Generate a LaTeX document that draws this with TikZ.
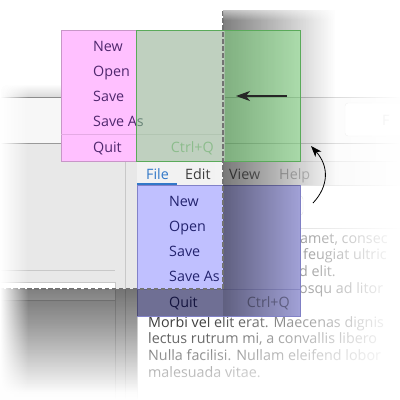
\documentclass[tikz,border=0pt]{standalone}
\usepackage{fontspec}
\setmainfont{Open Sans}
\usepackage{tikz}
\usetikzlibrary{arrows.meta,fadings}

\definecolor{pinkfill}{RGB}{255,192,255}
\definecolor{pinkdraw}{RGB}{200,150,200}
\definecolor{pinksep}{RGB}{228,170,228}
\definecolor{pinktext}{RGB}{80,40,110}
\definecolor{bluefill}{RGB}{192,192,255}
\definecolor{bluedraw}{RGB}{130,130,200}
\definecolor{bluesep}{RGB}{165,165,235}
\definecolor{bluetext}{RGB}{35,35,110}
\definecolor{greenfill}{RGB}{129,224,129}
\definecolor{greendraw}{RGB}{90,170,90}
\definecolor{filetab}{RGB}{50,120,200}
\definecolor{bodygray}{RGB}{60,60,60}
\definecolor{panelbg}{RGB}{232,232,232}
\definecolor{toolbg}{RGB}{247,247,247}
\definecolor{menubg}{RGB}{242,242,242}
\definecolor{linegray}{RGB}{200,200,200}

\tikzfading[name=fadeRight, left color=transparent!0, right color=transparent!100]
\tikzfading[name=fadeLeft, left color=transparent!100, right color=transparent!0]
\tikzfading[name=fadeDown, top color=transparent!0, bottom color=transparent!100]
\tikzfading[name=fadeUp, top color=transparent!100, bottom color=transparent!0]

\tikzset{
  menuitem/.style={anchor=base west, inner sep=0pt, font=\fontsize{14.3}{16}\selectfont},
  pinkitem/.style={menuitem, text=pinktext},
  blueitem/.style={menuitem, text=bluetext},
  bodytext/.style={menuitem, text=bodygray},
  winline/.style={draw=linegray, line width=0.8pt},
  shadowbox/.style={fill=black, fill opacity=0.5},
  cutedge/.style={draw=black!55, line width=1.1pt, dash pattern=on 4.5pt off 2.5pt},
  >={Stealth[length=14pt,width=10pt,inset=4pt]}
}

\begin{document}
\begin{tikzpicture}[x=1pt,y=-1pt]
    \useasboundingbox (0,0) rectangle (400,400);
    \clip (0,0) rectangle (400,400);

    % Window background
    \fill[toolbg] (0,97) rectangle (400,161);
    \fill[panelbg] (0,143) rectangle (137,400);
    \fill[menubg] (137,161) rectangle (400,185);
    \fill[white] (137,185) rectangle (400,400);
    \fill[black, fill opacity=0.15, path fading=fadeUp] (0,84) rectangle (223,97);

    % Window lines
    \draw[winline, draw=black!45] (0,97) -- (400,97);
    \draw[winline, draw=black!40] (0,143) -- (400,143);
    \draw[winline] (125,161) -- (400,161);
    \draw[winline] (137,185) -- (400,185);
    \draw[winline] (300,228) -- (400,228);
    \draw[winline] (125,143) -- (125,400);
    \draw[winline] (137,185) -- (137,400);
    \draw[winline] (0,270) -- (115,270);
    \draw[winline, fill=white] (-5,282) rectangle (115,300);
    \draw[winline] (115,300) -- (115,400);

    % Toolbar widgets
    \draw[linegray, fill=white, rounded corners=3pt] (345,103) rectangle (420,136);
    \node[menuitem, text=gray] (findlabel) at (382,125) {F};
    \draw[linegray, rounded corners=3pt] (255,196) rectangle (303,215);

    % Menu bar
    \node[menuitem, text=filetab] (filemenu) at (146,179) {File};
    \node[bodytext] (editmenu) at (185,179) {Edit};
    \node[bodytext] (viewmenu) at (229,179) {View};
    \node[bodytext, text=gray] (helpmenu) at (279,179) {Help};
    \draw[filetab, line width=2pt] (137,183.5) -- (177,183.5);

    % Text area
    \node[bodytext] (textA) at (300,243) {amet, consec};
    \node[bodytext] (textB) at (303,259.8) {feugiat ultric};
    \node[bodytext] (textC) at (299,276.6) {d elit.};
    \node[bodytext] (textD) at (299,293.4) {osqu ad litor};
    \foreach \txt [count=\i] in {Morbi vel elit erat. Maecenas dignis,
        {lectus rutrum mi, a convallis libero},
        Nulla facilisi. Nullam eleifend lobor, malesuada vitae.} {
        \node[bodytext] (textE\i) at (148,{327+16.8*(\i-1)}) {\txt};
    }

    % Fade out the window
    \fill[white, path fading=fadeLeft] (200,0) rectangle (400,400);
    \fill[white, path fading=fadeUp] (0,322) rectangle (400,400);

    % Menu at its place (blue)
    \draw[bluedraw, fill=bluefill] (137,185) rectangle (300,316);
    \draw[bluesep] (137,289) -- (300,289);
    \foreach \item [count=\i] in {New, Open, Save, Save As} {
        \node[blueitem] (blueitem\i) at (169,{206+25*(\i-1)}) {\item};
    }
    \node[blueitem] (bluequit) at (169,307) {Quit};
    \node[blueitem, anchor=base east, text=bluetext!60] (bluekey) at (290,307) {Ctrl+Q};

    % Shadows of the cut
    \begin{scope}
        \clip (223,0) -- (345,0) -- (345,185) -- (300,185) -- (300,316) -- (223,316) -- cycle;
        \fill[shadowbox, path fading=fadeRight] (223,10) rectangle (335,316);
    \end{scope}
    \fill[shadowbox, path fading=fadeDown] (0,289) rectangle (137,392);
    \fill[black, fill opacity=0.42] (137,289) rectangle (223,316);

    % Menu moved up (pink)
    \draw[pinkdraw, fill=pinkfill] (61,30) rectangle (224,161);
    \draw[pinksep] (61,134) -- (224,134);
    \foreach \item [count=\i] in {New, Open, Save, Save As} {
        \node[pinkitem] (pinkitem\i) at (93,{51+25*(\i-1)}) {\item};
    }
    \node[pinkitem] (pinkquit) at (93,152) {Quit};
    \node[pinkitem, anchor=base east, text=black!40] (pinkkey) at (214,152) {Ctrl+Q};

    % Target area (green)
    \draw[greendraw, fill=greenfill, fill opacity=0.5] (136,30) rectangle (300,161);

    % Cut edge
    \draw[cutedge] (223,11) -- (223,289) -- (0,289);
    \fill[white, path fading=fadeDown] (223,0) rectangle (345,20);
    \fill[white, path fading=fadeRight] (0,0) rectangle (28,400);

    % Arrows
    \coordinate (arrowTail) at (287,96);
    \coordinate (arrowTip) at (236,96);
    \draw[->, line width=1.2pt, black!85] (arrowTail) -- (arrowTip);
    \coordinate (bendStart) at (313,203);
    \coordinate (bendEnd) at (311,146);
    \draw[->, >={Stealth[length=11pt,width=8pt,inset=3pt]}, line width=0.8pt]
        (bendStart) .. controls (329,186) and (329,166) .. (bendEnd);
\end{tikzpicture}
\end{document}
